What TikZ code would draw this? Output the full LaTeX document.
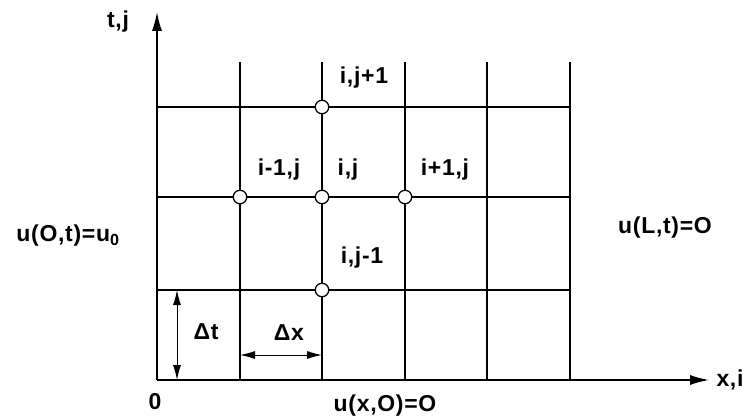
\documentclass[tikz,border=0pt]{standalone}
\usepackage{fontspec}
\setmainfont{Liberation Sans}[LetterSpace=3]
\usetikzlibrary{arrows.meta}
\begin{document}
\begin{tikzpicture}[x=1pt,y=-1pt,
  gridline/.style={line width=1.4pt},
  axis/.style={line width=1.4pt,-{Latex[length=19pt,width=10pt]}},
  dim/.style={line width=1pt,{Latex[length=15pt,width=8pt]}-{Latex[length=15pt,width=8pt]}},
  pt/.style={circle,draw,fill=white,line width=1.3pt,inner sep=0pt,minimum size=13.5pt},
  lab/.style={font=\fontsize{23}{26}\selectfont\bfseries,inner sep=0pt}]
\useasboundingbox (0,0) rectangle (748,420);
% origin and axes
\coordinate (O) at (157,380);
\coordinate (ytop) at (157,12);
\coordinate (xend) at (709,380);
% grid
\foreach \x in {240,322,405,487,570}
  \draw[gridline] (\x,62) -- (\x,380);
\foreach \y in {107,197,290}
  \draw[gridline] (157,\y) -- (570,\y);
\draw[axis] (O) -- (ytop);
\draw[axis] (O) -- (xend);
% nodes
\node[pt] (top) at (322,107) {};
\node[pt] (left) at (240,197) {};
\node[pt] (mid) at (322,197) {};
\node[pt] (right) at (405,197) {};
\node[pt] (bot) at (322,290) {};
% labels
\node[lab] (ltop) at (364,78) {i,j+1};
\node[lab] (lleft) at (279,170) {i-1,j};
\node[lab] (lmid) at (348,170) {i,j};
\node[lab] (lright) at (445,170) {i+1,j};
\node[lab] (lbot) at (362,258) {i,j-1};
\node[lab] (tj) at (118,22) {t,j};
\node[lab] (xi) at (730,380) {x,i};
\node[lab] (zero) at (155,402) {0};
\node[lab] (bcx) at (385,406) {u(x,O)=O};
\node[lab] (bc0) at (68,236) {u(O,t)=u\textsubscript{0}};
\node[lab] (bcL) at (665,228) {u(L,t)=O};
% dimensions
\coordinate (dt1) at (177,290);
\coordinate (dt2) at (177,380);
\draw[dim] (dt1) -- (dt2);
\node[lab] (dtl) at (206,332) {Δt};
\coordinate (dx1) at (240,355);
\coordinate (dx2) at (322,355);
\draw[dim] (dx1) -- (dx2);
\node[lab] (dxl) at (289,333) {Δx};
\end{tikzpicture}
\end{document}
